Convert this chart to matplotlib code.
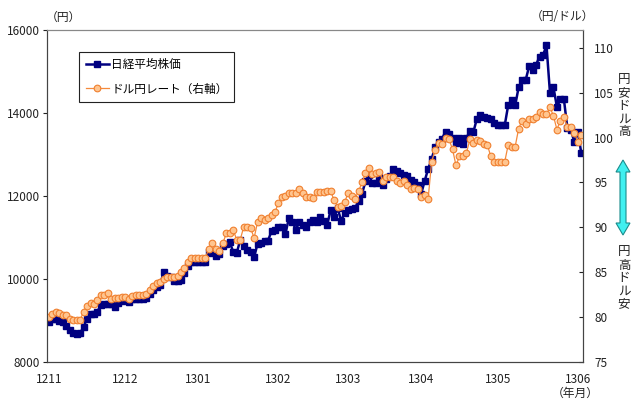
import matplotlib.pyplot as plt
import numpy as np
import pandas as pd
from matplotlib.patches import Polygon

plt.rcParams['font.family'] = ['Noto Sans CJK JP', 'DejaVu Sans']

# 営業日ベースの日付 (2012/11/01 - 2013/06/04)
dates = pd.bdate_range('2012-11-01', '2013-06-04')

# 日経平均株価 (円)
nikkei = [
    8965, 9040, 9020, 8970, 8960, 8870, 8770, 8690, 8660, 8680,
    8840, 9040, 9160, 9150, 9210, 9370, 9380, 9390, 9400, 9330,
    9420, 9460, 9480, 9440, 9500, 9510, 9520, 9520, 9540, 9640,
    9730, 9790, 9850, 10160, 10070, 10040, 9950, 9950, 9980, 10150,
    10310, 10395, 10395, 10395, 10395, 10395, 10650, 10610, 10550, 10600,
    10780, 10850, 10880, 10650, 10620, 10930, 10790, 10700, 10650, 10520,
    10850, 10870, 10910, 10920, 11150, 11180, 11260, 11250, 11080, 11470,
    11380, 11180, 11380, 11300, 11260, 11360, 11420, 11380, 11500, 11400,
    11300, 11660, 11480, 11700, 11400, 11580, 11650, 11680, 11700, 11880,
    12050, 12350, 12500, 12300, 12300, 12450, 12250, 12400, 12470, 12650,
    12600, 12550, 12500, 12490, 12390, 12340, 12250, 12050, 12360, 12650,
    12880, 13190, 13300, 13380, 13550, 13480, 13400, 13270, 13390, 13260,
    13400, 13560, 13540, 13860, 13950, 13900, 13880, 13860, 13760, 13700,
    13700, 13700, 14190, 14310, 14180, 14620, 14800, 14790, 15120, 15040,
    15160, 15360, 15390, 15630, 14480, 14620, 14140, 14330, 14330, 13630,
    13600, 13300, 13550, 13030,
]

# ドル円レート (円/ドル)
usdjpy = [
    80.0, 80.3, 80.5, 80.4, 80.2, 80.2, 79.8, 79.6, 79.6, 79.7,
    80.5, 81.2, 81.5, 81.4, 81.9, 82.4, 82.4, 82.7, 82.0, 82.1,
    82.1, 82.2, 82.2, 82.0, 82.3, 82.4, 82.4, 82.4, 82.5, 83.0,
    83.4, 83.8, 83.9, 84.2, 84.4, 84.4, 84.4, 84.6, 85.0, 85.5,
    86.1, 86.6, 86.6, 86.6, 86.6, 86.6, 87.6, 88.2, 87.6, 87.3,
    88.2, 89.3, 89.3, 89.7, 88.6, 88.6, 90.0, 90.0, 89.9, 88.8,
    90.6, 91.0, 90.8, 91.0, 91.4, 91.7, 92.7, 93.4, 93.5, 93.8,
    93.8, 93.8, 94.3, 93.8, 93.4, 93.4, 93.3, 93.9, 93.9, 93.9,
    94.0, 94.0, 93.0, 92.3, 92.4, 92.8, 93.8, 93.5, 93.2, 94.0,
    95.0, 96.0, 96.6, 95.9, 96.0, 96.2, 95.1, 95.6, 95.6, 95.6,
    95.1, 94.9, 95.2, 94.7, 94.3, 94.4, 94.3, 93.4, 93.6, 93.2,
    97.3, 98.6, 99.4, 99.3, 99.9, 99.8, 98.7, 96.9, 97.9, 98.0,
    98.3, 99.8, 99.4, 99.7, 99.6, 99.3, 99.2, 97.9, 97.3, 97.3,
    97.3, 97.3, 99.2, 99.0, 99.0, 101.0, 101.9, 101.5, 102.1, 102.1,
    102.3, 102.9, 102.6, 102.6, 103.4, 102.4, 100.9, 101.9, 102.3, 101.2,
    101.2, 100.5, 99.5, 100.3,
]

x = np.arange(len(dates))
month_starts = [np.where(dates.to_period('M') == p)[0][0]
                for p in dates.to_period('M').unique()]
month_labels = [dates[i].strftime('%y%m') for i in month_starts]

fig = plt.figure(figsize=(6.31, 4.0), dpi=100)
ax = fig.add_axes([0.0745, 0.0958, 0.8495, 0.8292])
ax2 = ax.twinx()

text_col = '#222222'
l1, = ax.plot(x, nikkei, color='#000080', lw=1.8, marker='s', ms=4.0,
              mfc='#000080', mec='#000080', label='日経平均株価')
l2, = ax2.plot(x, usdjpy, color='#F58A3C', lw=0.9, marker='o', ms=4.8,
               mfc='#FFC58F', mec='#F08030', mew=0.8, label='ドル円レート（右軸）')

ax.set_xlim(-0.5, len(dates) - 0.5)
ax.set_ylim(8000, 16000)
ax.set_yticks(np.arange(8000, 16001, 2000))
ax2.set_ylim(75, 112)
ax2.set_yticks(np.arange(75, 111, 5))
ax.set_xticks(month_starts)
ax.set_xticklabels(month_labels)

ax.tick_params(axis='x', length=0, pad=8, labelsize=8.5, colors=text_col)
ax.tick_params(axis='y', direction='out', length=3, labelsize=8.5,
               colors=text_col, pad=2)
ax2.tick_params(axis='y', direction='in', length=3, labelsize=8.5,
                colors=text_col, pad=8)

for a in (ax, ax2):
    a.spines['top'].set_color('#888888')
    a.spines['left'].set_color('#444444')
    a.spines['bottom'].set_color('#444444')
    a.spines['right'].set_color('#444444')

leg = ax2.legend(handles=[l1, l2], loc='upper left',
                 bbox_to_anchor=(0.06, 0.934), borderaxespad=0, fontsize=8.4,
                 fancybox=False, framealpha=1, edgecolor='#222222',
                 handlelength=2.0, handletextpad=0.2, borderpad=0.55,
                 labelspacing=0.95)
leg.get_frame().set_linewidth(0.8)

# 注記用のピクセル座標オーバーレイ
ov = fig.add_axes([0, 0, 1, 1], facecolor='none')
ov.set_xlim(0, 631)
ov.set_ylim(400, 0)
ov.axis('off')

ov.text(63, 17, '（円）', ha='center', va='center', fontsize=8.5, color=text_col)
ov.text(562, 17, '（円/ドル）', ha='center', va='center', fontsize=8.5,
        color=text_col)
ov.text(575, 393, '（年月）', ha='center', va='center', fontsize=8.5,
        color=text_col)
ov.text(624, 106, '\n'.join('円安ドル高'), ha='center', va='center',
        fontsize=9, linespacing=1.0, color=text_col)
ov.text(624, 278, '\n'.join('円高ドル安'), ha='center', va='center',
        fontsize=9, linespacing=1.0, color=text_col)

cx, top, bot, sw, hw, hl = 623, 160, 235, 3, 7, 12
arrow = Polygon([
    (cx, top), (cx + hw, top + hl), (cx + sw, top + hl),
    (cx + sw, bot - hl), (cx + hw, bot - hl), (cx, bot),
    (cx - hw, bot - hl), (cx - sw, bot - hl), (cx - sw, top + hl),
    (cx - hw, top + hl)], closed=True, fc='#40F0F0', ec='#1B8C8C', lw=0.8)
ov.add_patch(arrow)

fig.savefig('out.png', dpi=100)
